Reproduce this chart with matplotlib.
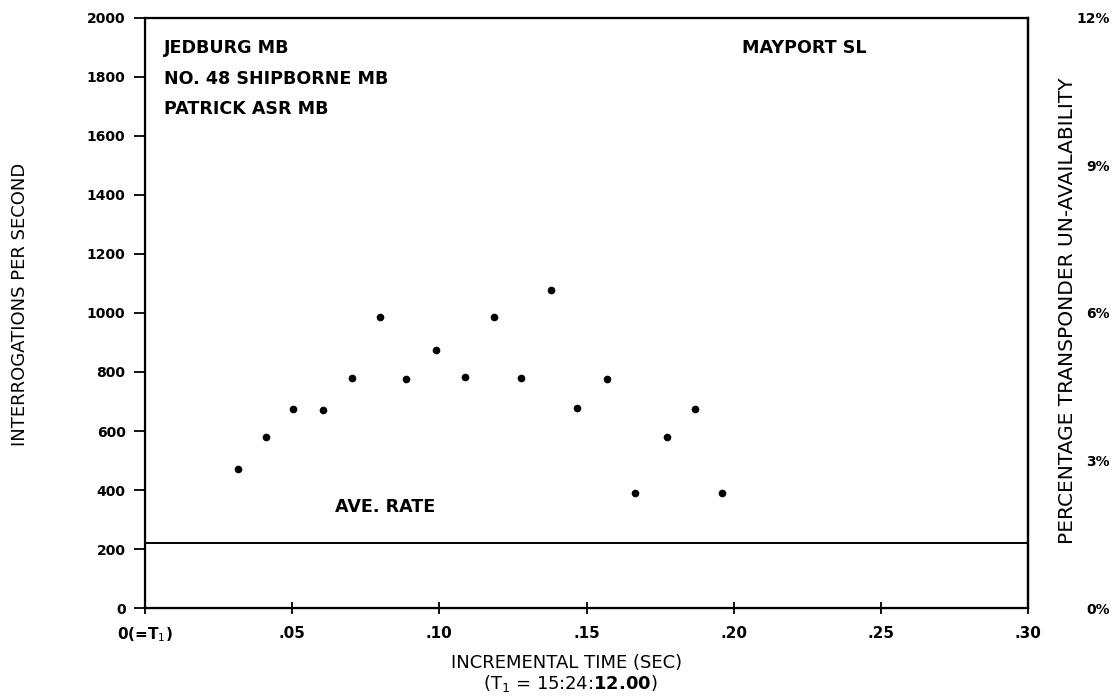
import numpy as np
import matplotlib
matplotlib.use('Agg')
import matplotlib.pyplot as plt

plt.rcParams['font.family'] = 'DejaVu Sans'
plt.rcParams['mathtext.fontset'] = 'dejavusans'

# incremental time (sec) and interrogation rate
t = [0.0317, 0.0412, 0.0502, 0.0605, 0.0704, 0.0799, 0.0887, 0.0990, 0.1088,
     0.1185, 0.1278, 0.1380, 0.1468, 0.1571, 0.1664, 0.1772, 0.1867, 0.1962]
rate = [471, 579, 675, 671, 780, 985, 777, 876, 782,
        985, 780, 1076, 678, 777, 390, 579, 675, 390]
ave_rate = 220

xticks = [0, 0.05, 0.10, 0.15, 0.20, 0.25, 0.30]
xlabels = ['0(=T$_1$)', '.05', '.10', '.15', '.20', '.25', '.30']
yticks = [0, 200, 400, 600, 800, 1000, 1200, 1400, 1600, 1800, 2000]
pct_ticks = [0, 3, 6, 9, 12]
pct_labels = ['0%', '3%', '6%', '9%', '12%']

fig = plt.figure(figsize=(11.18, 7), dpi=100)
ax = fig.add_axes([0.1297, 0.131, 0.7898, 0.844])

ax.plot(t, rate, 'o', color='k', markersize=4.5)
ax.axhline(ave_rate, color='k', linewidth=1.4)

ax.set_xlim(0, 0.30)
ax.set_ylim(0, 2000)
ax.set_xticks(xticks)
ax.set_xticklabels(xlabels, fontsize=11, fontweight='bold')
ax.set_yticks(yticks)
ax.set_yticklabels([str(v) for v in yticks], fontsize=10, fontweight='bold')
ax.tick_params(axis='y', direction='out', length=8, width=1.3, pad=6)
ax.tick_params(axis='x', direction='inout', length=9, width=1.3, pad=8)
for s in ax.spines.values():
    s.set_linewidth(1.6)

ax.set_ylabel('INTERROGATIONS PER SECOND', fontsize=13, va='center')
ax.yaxis.set_label_coords(-0.1416, 0.515)

fig.text(0.507, 1 - 663 / 700, 'INCREMENTAL TIME (SEC)', fontsize=13,
         ha='center', va='center')
fig.text(0.510, 1 - 684 / 700, r'(T$_1$ = 15:24:$\mathbf{12.00}$)', fontsize=13,
         ha='center', va='center')

ax2 = ax.twinx()
ax2.set_ylim(0, 12)
ax2.set_yticks(pct_ticks)
ax2.set_yticklabels(pct_labels, fontsize=10, fontweight='bold', ha='right')
ax2.tick_params(axis='y', length=0, pad=59)
ax2.spines['right'].set_linewidth(1.6)
ax2.set_ylabel('PERCENTAGE TRANSPONDER UN-AVAILABILITY', fontsize=14.5, va='center')
ax2.yaxis.set_label_coords(1.045, 0.504)

ax.text(0.022, 0.948, 'JEDBURG MB', transform=ax.transAxes, fontsize=12.6,
        fontweight='bold', va='center')
ax.text(0.022, 0.896, 'NO. 48 SHIPBORNE MB', transform=ax.transAxes, fontsize=12.6,
        fontweight='bold', va='center')
ax.text(0.022, 0.845, 'PATRICK ASR MB', transform=ax.transAxes, fontsize=12.6,
        fontweight='bold', va='center')
ax.text(0.676, 0.948, 'MAYPORT SL', transform=ax.transAxes, fontsize=12.6,
        fontweight='bold', va='center')
ax.text(0.215, 0.172, 'AVE. RATE', transform=ax.transAxes, fontsize=12.6,
        fontweight='bold', va='center')

fig.savefig('out.png', dpi=100)
